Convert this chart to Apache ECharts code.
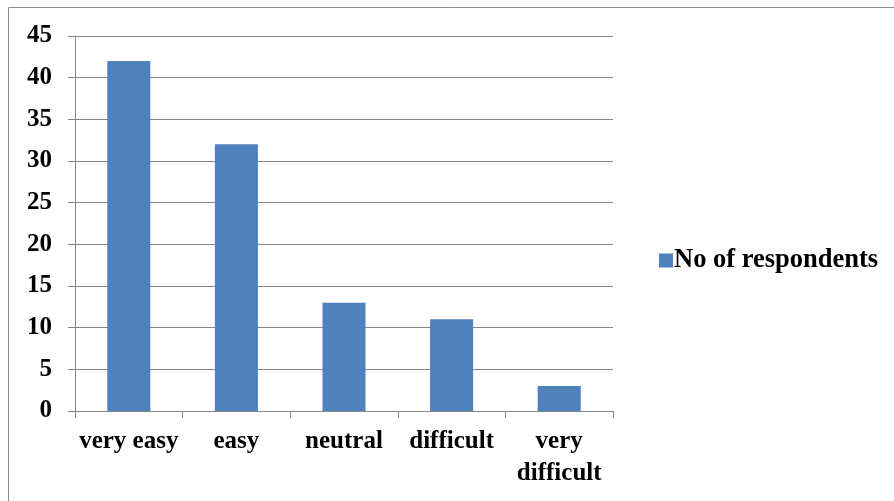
<!DOCTYPE html>
<html>
<head>
<meta charset="utf-8">
<script src="https://cdn.jsdelivr.net/npm/echarts@6/dist/echarts.min.js"></script>
<style>
  html, body { margin: 0; padding: 0; background: #fff; }
  #chart { width: 894px; height: 501px; }
</style>
</head>
<body>
<div id="chart"></div>
<script>
// Survey responses: perceived difficulty
const categories = ['very easy', 'easy', 'neutral', 'difficult', 'very\ndifficult'];
const respondents = [42, 32, 13, 11, 3];
const seriesName = 'No of respondents';

const FONT = '"Liberation Serif", "Times New Roman", serif';
const chart = echarts.init(document.getElementById('chart'));

chart.setOption({
  animation: false,
  backgroundColor: '#fff',
  graphic: [{
    type: 'rect',
    shape: { x: 8.5, y: 7.5, width: 950, height: 560 },
    style: { fill: 'none', stroke: '#8c8c8c', lineWidth: 1 },
    silent: true
  }],
  grid: { left: 75, right: 281, top: 36, bottom: 90, containLabel: false },
  legend: {
    data: [seriesName],
    left: 654, top: 242,
    orient: 'vertical',
    icon: 'rect',
    itemWidth: 14, itemHeight: 14, itemGap: 6,
    textStyle: { fontFamily: FONT, fontWeight: 'bold', fontSize: 26.5, color: '#000', padding: [0, 0, 0, -4] }
  },
  xAxis: {
    type: 'category',
    data: categories,
    axisLine: { lineStyle: { color: '#868686', width: 1 } },
    axisTick: { show: true, length: 7, alignWithLabel: false, lineStyle: { color: '#868686' } },
    axisLabel: {
      interval: 0, margin: 15,
      fontFamily: FONT, fontWeight: 'bold', fontSize: 25, color: '#000', lineHeight: 32
    },
    splitLine: { show: false }
  },
  yAxis: {
    type: 'value',
    min: 0, max: 45, interval: 5,
    axisLine: { show: true, lineStyle: { color: '#868686', width: 1 } },
    axisTick: { show: true, length: 7, lineStyle: { color: '#868686' } },
    axisLabel: { margin: 23, fontFamily: FONT, fontWeight: 'bold', fontSize: 25, color: '#000' },
    splitLine: { show: true, lineStyle: { color: '#868686', width: 1 } }
  },
  series: [{
    name: seriesName,
    type: 'bar',
    data: respondents,
    barWidth: '40%',
    itemStyle: { color: '#4F81BD' }
  }]
});
</script>
</body>
</html>
